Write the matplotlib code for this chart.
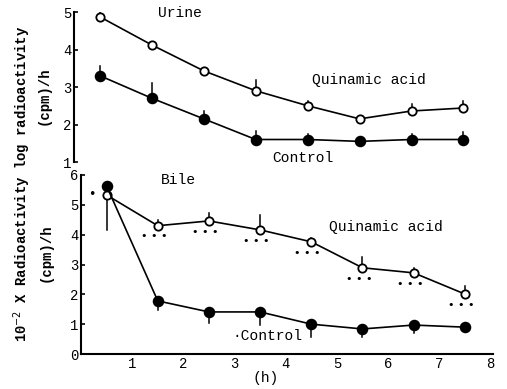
import matplotlib
matplotlib.use("Agg")
import matplotlib.pyplot as plt

# time points (h)
hours = [0.5, 1.5, 2.5, 3.5, 4.5, 5.5, 6.5, 7.5]

# Urine, log radioactivity (cpm)/h
urine_qa = [4.87, 4.12, 3.43, 2.90, 2.50, 2.15, 2.36, 2.44]
urine_qa_bar = [5.05, 4.12, 3.50, 3.20, 2.63, 2.20, 2.55, 2.63]
urine_ctl = [3.30, 2.70, 2.15, 1.60, 1.60, 1.55, 1.60, 1.60]
urine_ctl_bar = [3.56, 3.10, 2.35, 1.83, 1.75, 1.61, 1.75, 1.80]

# Bile, 10^-2 x radioactivity (cpm)/h
bile_qa = [5.33, 4.30, 4.46, 4.16, 3.76, 2.89, 2.72, 2.01]
bile_qa_bar = [4.15, 4.50, 4.73, 4.66, 3.90, 3.26, 2.89, 2.28]
bile_ctl = [5.63, 1.78, 1.41, 1.41, 1.00, 0.84, 0.97, 0.90]
bile_ctl_bar = [5.63, 1.48, 1.04, 0.98, 0.57, 0.57, 0.70, 0.85]

W, H = 507, 389
plt.rcParams["font.family"] = "Liberation Mono"

fig = plt.figure(figsize=(W / 100, H / 100), dpi=100)

ax_top = fig.add_axes([74 / W, (H - 162) / H, 418 / W, 150 / H])
ax_bot = fig.add_axes([81 / W, (H - 354) / H, 412 / W, 179 / H])


def draw(ax, y, bar, filled):
    for x, v, b in zip(hours, y, bar):
        ax.plot([x, x], [v, b], color="black", lw=1.1, zorder=2)
    ax.plot(hours, y, color="black", lw=1.2, marker="o",
            ms=7 if filled else 6,
            mfc="black" if filled else "white", mec="black", mew=1.3, zorder=3)


draw(ax_top, urine_qa, urine_qa_bar, False)
draw(ax_top, urine_ctl, urine_ctl_bar, True)
draw(ax_bot, bile_qa, bile_qa_bar, False)
draw(ax_bot, bile_ctl, bile_ctl_bar, True)

# significance marks under quinamic acid points
for x, v in zip(hours[1:], bile_qa[1:]):
    ax_bot.text(x - 0.07, v - 0.36, "\u2022 \u2022 \u2022", ha="center", va="center",
                fontsize=8, family="DejaVu Sans")
ax_bot.text(0.22, bile_qa[0], "\u2022", ha="center", va="center", fontsize=9,
            family="DejaVu Sans")

for ax in (ax_top, ax_bot):
    ax.set_xlim(0, 8.05)
    ax.spines["top"].set_visible(False)
    ax.spines["right"].set_visible(False)
    ax.spines["left"].set_linewidth(1.5)
    ax.tick_params(axis="y", direction="in", length=3, width=1.2,
                   labelsize=10, pad=2)

ax_top.set_ylim(1, 5)
ax_top.set_yticks([1, 2, 3, 4, 5])
ax_top.spines["bottom"].set_visible(False)
ax_top.set_xticks([])

ax_bot.set_ylim(0, 6)
ax_bot.set_yticks(range(0, 7))
ax_bot.spines["bottom"].set_linewidth(1.5)
ax_bot.set_xticks(range(1, 9))
ax_bot.tick_params(axis="x", length=0, labelsize=10, pad=2)

ax_top.text(2.03, 4.97, "Urine", fontsize=10.5, va="center", ha="center")
ax_top.text(5.67, 3.19, "Quinamic acid", fontsize=10.5, va="center", ha="center")
ax_top.text(4.4, 1.1, "Control", fontsize=10.5, va="center", ha="center")

ax_bot.text(1.9, 5.83, "Bile", fontsize=10.5, va="center", ha="center")
ax_bot.text(7.07, 4.26, "Quinamic acid", fontsize=10.5, va="center", ha="right")
ax_bot.text(2.96, 0.6, "\u00b7Control", fontsize=10.5, va="center", ha="left")
ax_bot.text(3.6, -0.8, "(h)", fontsize=10.5, va="center", ha="center")

fig.text(22 / W, (H - 184) / H,
         "10$^{-2}$ X Radioactivity log radioactivity", rotation=90,
         ha="center", va="center", fontsize=10, fontweight="bold")
fig.text(44 / W, (H - 96) / H, "(cpm)/h", rotation=90,
         ha="center", va="center", fontsize=10, fontweight="bold")
fig.text(46 / W, (H - 253) / H, "(cpm)/h", rotation=90,
         ha="center", va="center", fontsize=10, fontweight="bold")

fig.savefig("out.png", dpi=100)
